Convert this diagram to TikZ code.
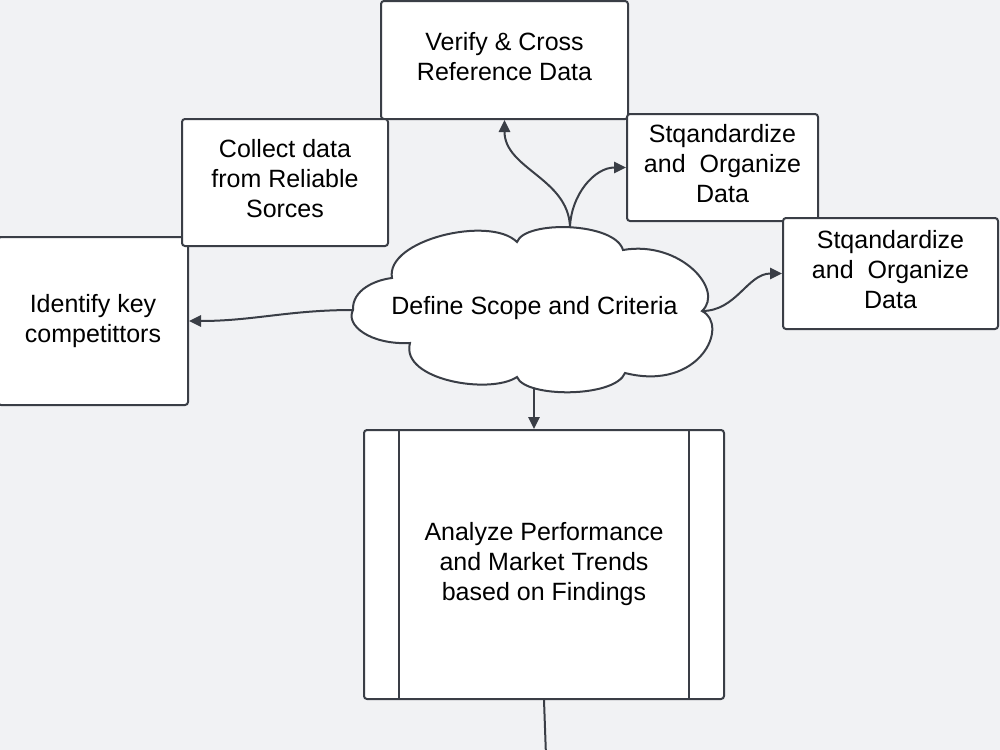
\documentclass[tikz,border=0pt]{standalone}
\usepackage{fontspec}
\setmainfont{Liberation Sans}
\usetikzlibrary{arrows.meta}
\definecolor{bg}{RGB}{241,242,244}
\definecolor{ln}{RGB}{58,62,70}
\begin{document}
\begin{tikzpicture}[x=0.75pt,y=-0.75pt,
  box/.style={draw=ln, line width=1.5pt, fill=white, rounded corners=2.25pt, align=center,
    font=\fontsize{18.75}{22.5}\selectfont, inner sep=0pt, text=black},
  lift/.style={text depth=6pt},
  arr/.style={draw=ln, line width=1.5pt, -{Triangle[length=9pt,width=8.5pt]}},
  plain/.style={draw=ln, line width=1.5pt},
  cloudshape/.style={draw=ln, fill=white, line width=1.5pt}
  ]
\fill[bg] (0,0) rectangle (1000,750);
\useasboundingbox (0,0) rectangle (1000,750);
\clip (0,0) rectangle (1000,750);

\node[box, minimum width=142.5pt, minimum height=126pt] (identify) at (93,321) {Identify key\\competittors};
\node[box, lift, minimum width=185.25pt, minimum height=88.5pt] (verify) at (504.5,60) {Verify \& Cross\\Reference Data};
\node[box, lift, minimum width=154.5pt, minimum height=95.25pt] (collect) at (285,182.5) {Collect data\\from Reliable\\Sorces};
\node[box, lift, minimum width=143.25pt, minimum height=80.25pt] (stqa) at (722.5,167.5) {Stqandardize\\and\ \ Organize\\Data};
\node[box, lift, minimum width=161.25pt, minimum height=83.25pt] (stqb) at (890.5,273.5) {Stqandardize\\and\ \ Organize\\Data};

% cloud
\path[cloudshape] (517,242) .. controls (525,220) and (615,222) .. (623,250)
 .. controls (680,240) and (725,290) .. (702,311)
 .. controls (730,325) and (700,392) .. (625,373)
 .. controls (615,398) and (525,398) .. (517,377)
 .. controls (490,395) and (400,380) .. (410,343)
 .. controls (370,345) and (345,325) .. (353,310)
 .. controls (352,290) and (375,280) .. (392,278)
 .. controls (385,240) and (490,215) .. (517,242) -- cycle;
\node[font=\fontsize{18.75}{22.5}\selectfont, text=black, inner sep=0pt] (cloud) at (534.5,308) {Define Scope and Criteria};
\coordinate (cT) at (570,227);
\coordinate (cL) at (353,310);
\coordinate (cR) at (702,311);
\coordinate (cB) at (534,388);

\node[box, minimum width=270pt, minimum height=201.75pt] (analyze) at (544,564.5) {Analyze Performance\\and Market Trends\\based on Findings};
\draw[plain] ([xshift=27pt]analyze.north west) -- ([xshift=27pt]analyze.south west);
\draw[plain] ([xshift=-27pt]analyze.north east) -- ([xshift=-27pt]analyze.south east);
\coordinate (tail) at (546,756);

% connectors
\draw[arr] (cT) to[out=92,in=-90] (verify.south);
\draw[arr] (cT) to[out=88,in=180] (stqa.west);
\draw[arr] (cL) to[out=180,in=0] (identify.east);
\draw[arr] (cR) to[out=0,in=180] (stqb.west);
\draw[arr] (cB) -- (cB |- analyze.north);
\draw[plain] (analyze.south) -- (tail);
\end{tikzpicture}
\end{document}
